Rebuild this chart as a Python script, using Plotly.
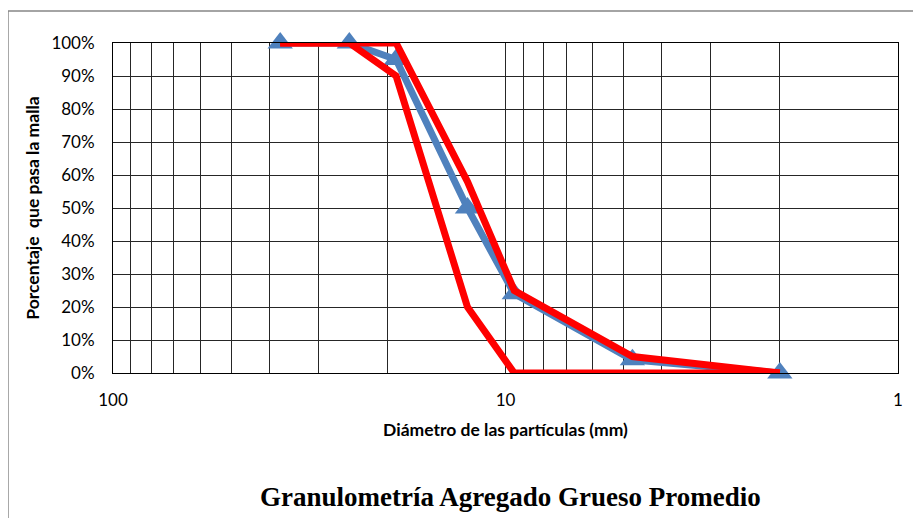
import plotly.graph_objects as go

# tamices (mm) y porcentajes que pasan
tamiz_mm = [37.5, 25, 19, 12.5, 9.5, 4.75, 2.0]
pasa_promedio = [100, 100, 95, 50, 24, 4, 0]
limite_superior = [100, 100, 100, 58, 25, 5, 0]
limite_inferior = [100, 100, 90, 20, 0, 0, 0]

y_ticks = [0, 10, 20, 30, 40, 50, 60, 70, 80, 90, 100]
y_labels = ['0%', '10%', '20%', '30%', '40%', '50%', '60%', '70%', '80%', '90%', '100%']
decadas = [1, 10, 100]
decada_labels = ['1', '10', '100']

# rejilla logaritmica: todos los multiplos 1..9 de cada decada
x_grid = [m * d for d in [1, 10] for m in range(1, 10)] + [100]
x_text = [decada_labels[decadas.index(v)] if v in decadas else '' for v in x_grid]

fig = go.Figure()

fig.add_trace(go.Scatter(
    x=tamiz_mm, y=pasa_promedio, mode='lines+markers',
    line=dict(color='#4F81BD', width=7),
    marker=dict(symbol='triangle-up', size=22, color='#4F81BD'),
    cliponaxis=False, name='Promedio'))

fig.add_trace(go.Scatter(
    x=tamiz_mm, y=limite_superior, mode='lines',
    line=dict(color='#FF0000', width=7), cliponaxis=False, name='Lim. sup.'))

fig.add_trace(go.Scatter(
    x=tamiz_mm, y=limite_inferior, mode='lines',
    line=dict(color='#FF0000', width=7), cliponaxis=False, name='Lim. inf.'))

# la pagina deja 8px de margen en el body: se descuentan aqui
fig.update_layout(
    width=913, height=510,
    margin=dict(l=105, r=23, t=35, b=145),
    paper_bgcolor='white', plot_bgcolor='white',
    showlegend=False,
    font=dict(family='Lato, Arial, sans-serif', size=17, color='black'),
    xaxis=dict(
        type='log', range=[2, 0],
        tickmode='array', tickvals=x_grid, ticktext=x_text,
        showgrid=True, gridcolor='#262626', gridwidth=1,
        showline=True, linecolor='black', linewidth=1, mirror=True,
        ticks='', ticklabelstandoff=12, zeroline=False,
        title=dict(text='<b>Diámetro de las partículas (mm)</b>',
                   font=dict(size=17.5), standoff=14),
    ),
    yaxis=dict(
        range=[0, 100], tickmode='array', tickvals=y_ticks, ticktext=y_labels,
        showgrid=True, gridcolor='#262626', gridwidth=1,
        showline=True, linecolor='black', linewidth=1, mirror=True,
        ticks='', ticklabelstandoff=14, zeroline=False,
        title=dict(text='<b>Porcentaje \u00a0que pasa la malla</b>',
                   font=dict(size=17.5), standoff=7),
    ),
    annotations=[dict(
        text='<b>Granulometría Agregado Grueso Promedio</b>',
        xref='paper', yref='paper', x=0.506, y=-0.376,
        xanchor='center', yanchor='middle', showarrow=False,
        font=dict(family='Liberation Serif, serif', size=27, color='black'))],
    shapes=[dict(
        type='rect', xref='paper', yref='paper',
        x0=-0.1338, x1=1.2, y0=-0.6, y1=1.097,
        line=dict(color='#868686', width=1.5), layer='below')],
)

fig.write_html('out.html')
